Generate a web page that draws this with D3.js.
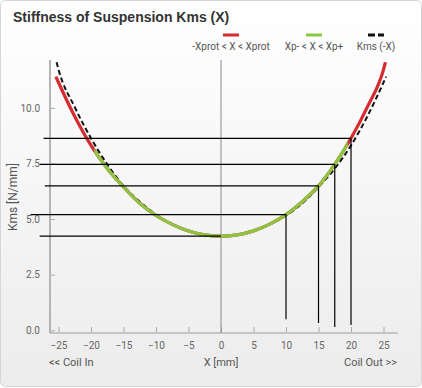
<!DOCTYPE html>
<html>
<head>
<meta charset="utf-8">
<script src="https://cdn.jsdelivr.net/npm/d3@7"></script>
<style>
  html, body { margin: 0; padding: 0; background: #ffffff; }
  svg { display: block; }
  text { font-family: Roboto, "Liberation Sans", sans-serif; }
</style>
</head>
<body>
<svg id="chart" width="422" height="388"></svg>
<script>
// ---------- data ----------
const titleText = "Stiffness of Suspension Kms (X)";
const displacement = [-25.4, -25, -22.5, -20, -17.5, -15, -12.5, -10, -7.5, -5, -2.5, 0, 2.5, 5, 7.5, 10, 12.5, 15, 17.5, 20, 22.5, 25, 25.3];
const kmsValues    = [11.40, 11.14, 9.61, 8.31, 7.27, 6.44, 5.71, 5.16, 4.76, 4.46, 4.29, 4.23, 4.29, 4.47, 4.77, 5.20, 5.78, 6.49, 7.46, 8.63, 10.03, 11.72, 12.05];
const xpRange = [-19.5, 19.5];            // Xp- .. Xp+
const markerX      = [0, 10, 15, 17.5, 20];
const markerK      = [4.23, 5.20, 6.49, 7.46, 8.63];
const markerStartX = [-27.9, -29.3, -27.1, -27.9, -27.3];
const markerEndK   = [null, 0.5, 0.33, 0.15, 0.24];
const xTicks = [-25, -20, -15, -10, -5, 0, 5, 10, 15, 20, 25];
const yTicks = [0, 2.5, 5, 7.5, 10];
const legendLabels = ["-Xprot < X < Xprot", "Xp- < X < Xp+", "Kms (-X)"];
const colors = { red: "#d52a30", green: "#8dc540", dash: "#111111" };

// ---------- setup ----------
const svg = d3.select("#chart");
const defs = svg.append("defs");
const grad = defs.append("linearGradient").attr("id", "bg").attr("x1", 0).attr("y1", 0).attr("x2", 0).attr("y2", 1);
grad.append("stop").attr("offset", "0%").attr("stop-color", "#ffffff");
grad.append("stop").attr("offset", "100%").attr("stop-color", "#ececec");

svg.append("rect").attr("x", 0.5).attr("y", 0.5).attr("width", 421).attr("height", 386)
  .attr("rx", 5).attr("fill", "url(#bg)").attr("stroke", "#d6d6d6");

svg.append("text").attr("x", 13).attr("y", 22).text(titleText)
  .style("font-family", "'Liberation Sans', Arial, sans-serif")
  .style("font-weight", "bold").style("font-size", "14px").attr("fill", "#333");

const x = d3.scaleLinear().domain([-26.31, 27.23]).range([50, 398]);
const y = d3.scaleLinear().domain([0, 12.15]).range([330.3, 60]);
const axisY = 333;

// ---------- axes ----------
const yAxis = d3.axisLeft(y).tickValues(yTicks).tickSize(-5).tickPadding(10).tickFormat(d3.format(".1f"));
const gy = svg.append("g").attr("transform", "translate(50,0)").call(yAxis);
gy.select(".domain").remove();
gy.selectAll("line").attr("stroke", "#aaa");
gy.selectAll("text").attr("fill", "#666").style("font-size", "10px").style("font-family", "Roboto, sans-serif");

const xAxis = d3.axisBottom(x).tickValues(xTicks).tickSize(-5).tickPadding(10);
const gx = svg.append("g").attr("transform", `translate(0,${axisY - 1})`).call(xAxis);
gx.select(".domain").remove();
gx.selectAll("line").attr("stroke", "#aaa");
gx.selectAll("text").attr("fill", "#666").style("font-size", "10px").style("font-family", "Roboto, sans-serif");

svg.append("line").attr("x1", 50).attr("x2", 50).attr("y1", 60).attr("y2", axisY)
  .attr("stroke", "#b4b4b4").attr("stroke-width", 2);
svg.append("line").attr("x1", 50).attr("x2", 398).attr("y1", axisY).attr("y2", axisY)
  .attr("stroke", "#999").attr("stroke-width", 1);
// zero line
svg.append("line").attr("x1", x(0)).attr("x2", x(0)).attr("y1", 60).attr("y2", axisY)
  .attr("stroke", "#8a8a8a").attr("stroke-width", 1);

// axis titles
svg.append("text").attr("x", 49).attr("y", 366).text("<< Coil In")
  .attr("fill", "#555").style("font-size", "11px");
svg.append("text").attr("x", x(0)).attr("y", 366).attr("text-anchor", "middle").text("X [mm]")
  .attr("fill", "#555").style("font-size", "11px");
svg.append("text").attr("x", 397).attr("y", 366).attr("text-anchor", "end").text("Coil Out >>")
  .attr("fill", "#555").style("font-size", "11px");
svg.append("text").attr("transform", "translate(17,197) rotate(-90)").attr("text-anchor", "middle")
  .text("Kms [N/mm]").attr("fill", "#555").style("font-size", "12px");

// ---------- curves ----------
const pts = displacement.map((d, i) => ({ x: d, k: kmsValues[i] }));
const mirrored = pts.map(p => ({ x: -p.x, k: p.k })).reverse();
const line = d3.line().x(d => x(d.x)).y(d => y(d.k)).curve(d3.curveMonotoneX);

defs.append("clipPath").attr("id", "xpclip").append("rect")
  .attr("x", x(xpRange[0])).attr("width", x(xpRange[1]) - x(xpRange[0]))
  .attr("y", 0).attr("height", 388);

svg.append("path").attr("d", line(mirrored)).attr("fill", "none")
  .attr("stroke", colors.dash).attr("stroke-width", 2).attr("stroke-dasharray", "5,3");
svg.append("path").attr("d", line(pts)).attr("fill", "none")
  .attr("stroke", colors.red).attr("stroke-width", 3.2);
svg.append("path").attr("d", line(pts)).attr("fill", "none").attr("clip-path", "url(#xpclip)")
  .attr("stroke", colors.green).attr("stroke-width", 3.2);

// ---------- reference lines ----------
markerX.forEach((mx, i) => {
  svg.append("line").attr("x1", x(markerStartX[i])).attr("x2", x(mx))
    .attr("y1", y(markerK[i])).attr("y2", y(markerK[i]))
    .attr("stroke", "#000").attr("stroke-width", 1.2);
  if (markerEndK[i] !== null) {
    svg.append("line").attr("x1", x(mx)).attr("x2", x(mx))
      .attr("y1", y(markerK[i])).attr("y2", y(markerEndK[i]))
      .attr("stroke", "#000").attr("stroke-width", 1.2);
  }
});

// ---------- legend ----------
const legendCenters = [231, 314, 376];
const legendColors = [colors.red, colors.green, colors.dash];
legendLabels.forEach((lab, i) => {
  const cx = legendCenters[i];
  const sw = svg.append("line").attr("x1", cx - 8).attr("x2", cx + 8).attr("y1", 35).attr("y2", 35)
    .attr("stroke", legendColors[i]).attr("stroke-width", 3);
  if (i === 2) sw.attr("stroke-dasharray", "7,3");
  svg.append("text").attr("x", cx).attr("y", 49.5).attr("text-anchor", "middle").text(lab)
    .attr("fill", "#555").style("font-size", "10px");
});
</script>
</body>
</html>
